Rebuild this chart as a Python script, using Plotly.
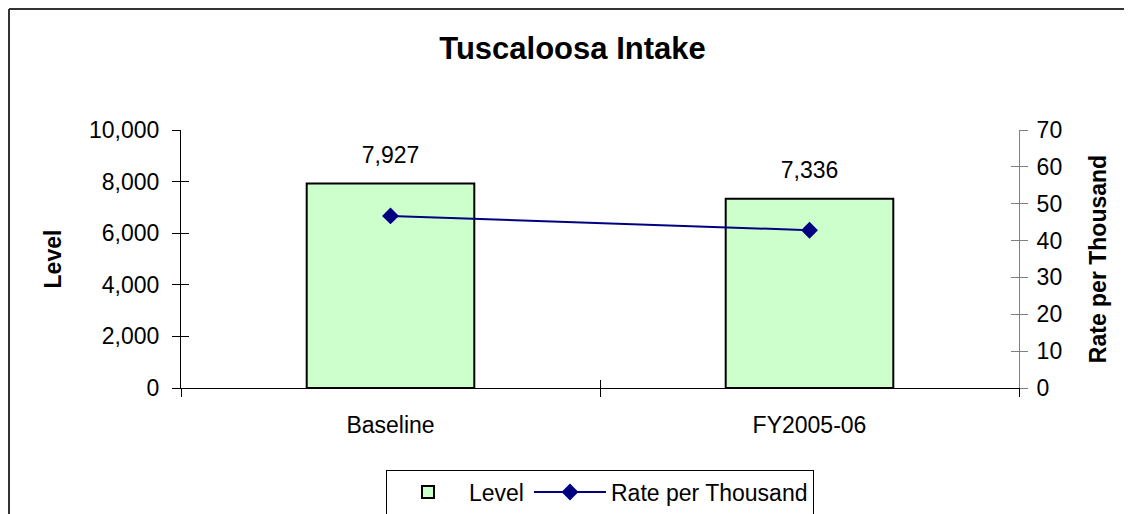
import plotly.graph_objects as go

categories = ["Baseline", "FY2005-06"]
level_values = [7927, 7336]
rate_values = [46.7, 42.8]
level_ticks = [0, 2000, 4000, 6000, 8000, 10000]
rate_ticks = [0, 10, 20, 30, 40, 50, 60, 70]

FONT = "Liberation Sans, Arial, sans-serif"
OFF = 8  # browser default body margin
W, H = 1132 - OFF, 514 - OFF
# target plot area on screen: x 181..1019, y 130..388
L, T = 181 - OFF, 130 - OFF
R = W - (1019 - OFF)
B = H - (388 - OFF)
pw, ph = W - L - R, H - T - B

def px_x(sx):
    return (sx - OFF - L) / pw

def px_y(sy):
    return (H - B - (sy - OFF)) / ph

fig = go.Figure()

fig.add_trace(go.Bar(
    x=categories, y=level_values, name="Level", width=0.4,
    marker=dict(color="#CCFFCC", line=dict(color="#000000", width=2)),
    yaxis="y",
))
# data labels above bars
fig.add_trace(go.Scatter(
    x=categories, y=level_values, mode="text+markers", showlegend=False,
    marker=dict(size=22, opacity=0),
    texttemplate="%{y:,}", textposition="top center",
    textfont=dict(family=FONT, size=23, color="#000000"),
    cliponaxis=False, hoverinfo="skip", yaxis="y",
))
fig.add_trace(go.Scatter(
    x=categories, y=rate_values, name="Rate per Thousand", mode="lines+markers",
    line=dict(color="#000080", width=2),
    marker=dict(symbol="diamond", size=13, color="#000080"),
    yaxis="y2",
))
# helper traces for inside-tick overlays (cross ticks)
fig.add_trace(go.Scatter(x=categories, y=[None, None], yaxis="y3", showlegend=False, hoverinfo="skip"))
fig.add_trace(go.Scatter(x=categories, y=[None, None], yaxis="y4", showlegend=False, hoverinfo="skip"))
fig.add_trace(go.Scatter(x=categories, y=[None, None], xaxis="x2", yaxis="y", showlegend=False, hoverinfo="skip"))

border = "#333333"
bl, bt, br, bb = px_x(OFF + 1), px_y(OFF + 1), px_x(1131), px_y(560)
shapes = [
    dict(type="line", xref="paper", yref="paper", x0=bl, x1=bl, y0=bt, y1=bb, line=dict(color=border, width=2)),
    dict(type="line", xref="paper", yref="paper", x0=bl, x1=br, y0=bt, y1=bt, line=dict(color=border, width=2)),
    dict(type="line", xref="paper", yref="paper", x0=br, x1=br, y0=bt, y1=bb, line=dict(color=border, width=2)),
]

fig.update_layout(
    width=W, height=H,
    margin=dict(l=L, r=R, t=T, b=B, autoexpand=False),
    paper_bgcolor="white", plot_bgcolor="white",
    font=dict(family=FONT, size=23, color="#000000"),
    title=dict(text="<b>Tuscaloosa Intake</b>", x=(572.5 - OFF) / W, xref="container", xanchor="center",
               y=1 - (48 - OFF) / H, yref="container", yanchor="middle",
               font=dict(family=FONT, size=31, color="#000000")),
    showlegend=True,
    legend=dict(orientation="h", x=px_x(600), xanchor="center", y=px_y(492), yanchor="middle",
                bordercolor="#000000", borderwidth=1, bgcolor="white",
                font=dict(family=FONT, size=23, color="#000000"),
                itemwidth=72, traceorder="normal"),
    xaxis=dict(
        type="category", range=[-0.5, 1.5], tickson="boundaries",
        ticks="outside", ticklen=8, tickcolor="#000000", tickwidth=1,
        showline=True, linecolor="#000000", linewidth=1, showgrid=False, zeroline=False,
        tickfont=dict(family=FONT, size=23, color="#000000"),
        ticklabelstandoff=16,
    ),
    xaxis2=dict(
        type="category", range=[-0.5, 1.5], tickson="boundaries", overlaying="x", anchor="y", side="bottom",
        ticks="inside", ticklen=8, tickcolor="#000000", tickwidth=1, showticklabels=False,
        showline=False, showgrid=False, zeroline=False,
    ),
    yaxis=dict(
        range=[0, 10000], tickvals=level_ticks, tickformat=",",
        ticks="outside", ticklen=8, tickcolor="#000000",
        showline=True, linecolor="#000000", linewidth=1, showgrid=False, zeroline=False,
        tickfont=dict(family=FONT, size=23, color="#000000"),
        ticklabelstandoff=8,
        title=dict(text="<b>Level</b>", font=dict(family=FONT, size=23, color="#000000"), standoff=20),
    ),
    yaxis2=dict(
        range=[0, 70], tickvals=rate_ticks, overlaying="y", side="right", anchor="x",
        ticks="outside", ticklen=8, tickcolor="#808080",
        showline=True, linecolor="#808080", linewidth=1, showgrid=False, zeroline=False,
        tickfont=dict(family=FONT, size=23, color="#000000"),
        ticklabelstandoff=4,
        title=dict(text="<b>Rate per Thousand</b>", font=dict(family=FONT, size=23, color="#000000"), standoff=28),
    ),
    yaxis3=dict(
        range=[0, 10000], tickvals=level_ticks, overlaying="y", side="left", anchor="x",
        ticks="inside", ticklen=8, tickcolor="#000000", showticklabels=False,
        showline=False, showgrid=False, zeroline=False,
    ),
    yaxis4=dict(
        range=[0, 70], tickvals=rate_ticks, overlaying="y", side="right", anchor="x",
        ticks="inside", ticklen=8, tickcolor="#808080", showticklabels=False,
        showline=False, showgrid=False, zeroline=False,
    ),
    shapes=shapes,
)

fig.write_html("out.html")
